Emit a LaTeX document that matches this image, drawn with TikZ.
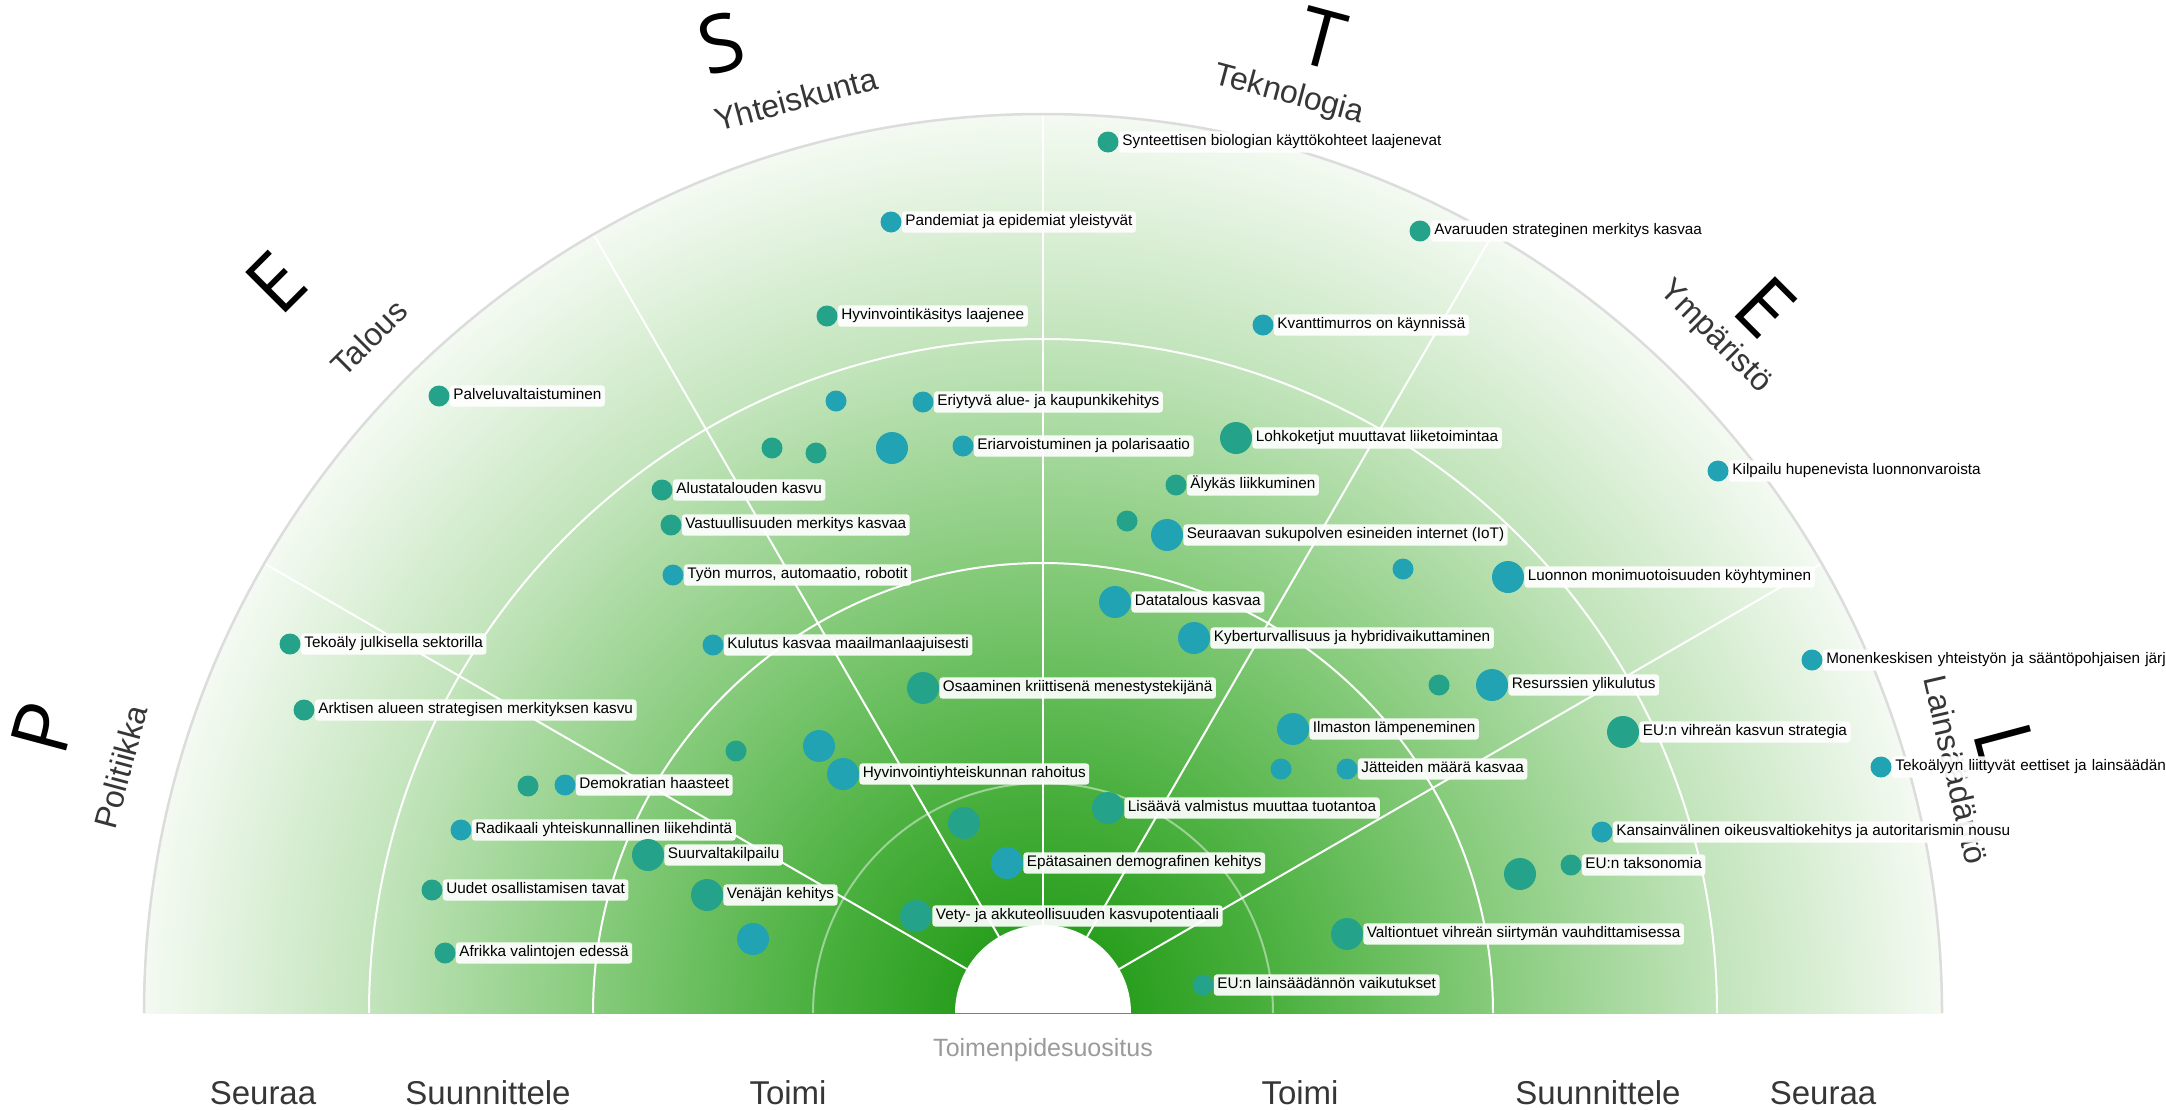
\documentclass[tikz,border=0pt]{standalone}
\usepackage{fontspec}
\setmainfont{Liberation Sans}
\newfontfamily\bigletterfont{Open Sans}
\usetikzlibrary{positioning}

\def\rimradius{899}
\def\holeradius{88}

\definecolor{dotgreen}{HTML}{25A38A}
\definecolor{dotcyan}{HTML}{22A3B4}
\definecolor{glowA}{HTML}{2A9F1F}
\definecolor{glowB}{HTML}{4AB03E}
\definecolor{glowC}{HTML}{86CB7B}
\definecolor{glowD}{HTML}{C2E4BB}
\definecolor{glowE}{HTML}{F4FAF2}
\definecolor{rimgray}{HTML}{DCDCDC}
\definecolor{namegray}{HTML}{363636}
\definecolor{axisgray}{HTML}{9A9A9A}

\pgfdeclareradialshading{pestelglow}{\pgfpoint{0bp}{0bp}}{color(0bp)=(glowA); color(2.5bp)=(glowA); color(6.4bp)=(glowB); color(12.5bp)=(glowC); color(18.7bp)=(glowD); color(25bp)=(glowE); color(50bp)=(glowE)}

\tikzset{
  ringline/.style={white,line width=2pt},
  innerring/.style={white,opacity=0.45,line width=2pt},
  rimline/.style={rimgray,line width=2.5pt},
  trenddot/.style={circle,inner sep=0pt,draw=none},
  trendlabel/.style={fill=white,fill opacity=0.92,text opacity=1,rounded corners=3pt,
    inner xsep=3.5pt,inner ysep=3.5pt,text height=11pt,text depth=3.2pt,
    font=\fontsize{15.3}{18}\selectfont},
  sectorletter/.style={font=\bigletterfont\fontsize{80}{90}\selectfont},
  sectorname/.style={text=namegray,font=\fontsize{32}{38}\selectfont},
  horizonlabel/.style={text=namegray,font=\fontsize{33}{40}\selectfont},
  axistitle/.style={text=axisgray,font=\fontsize{25}{30}\selectfont}
}

\begin{document}
\begin{tikzpicture}[x=1pt,y=-1pt]
\useasboundingbox (0,0) rectangle (2166,1109);
\clip (0,0) rectangle (2166,1109);

% radar half disc
\begin{scope}[shift={(1043,1013)},yscale=-1]
  \begin{scope}
    \clip (-\rimradius,0) rectangle (\rimradius,\rimradius);
    \shade[shading=pestelglow] (0,0) circle (\rimradius);
  \end{scope}
  \fill[white] (-\holeradius,0) arc[start angle=180,end angle=0,radius=\holeradius] -- cycle;
  \draw[innerring] (-230,0) arc[start angle=180,end angle=0,radius=230];
  \foreach \r in {450,674}
    \draw[ringline] (-\r,0) arc[start angle=180,end angle=0,radius=\r];
  \foreach \a in {30,60,...,150}
    \draw[ringline] (\a:\holeradius) -- (\a:\rimradius);
  \draw[rimline] (-\rimradius,0) arc[start angle=180,end angle=0,radius=\rimradius];
\end{scope}

% sector letters and names
\foreach \lx/\ly/\rot/\letter [count=\k] in {721/43/15/S,1322/39/-15/T,276/283/45/E,
    1765/307/-45/E,43/728/75/P,2005/745/-75/L}
  \node[sectorletter,rotate=\rot] (letter\k) at (\lx,\ly) {\letter};
\foreach \nx/\ny/\rot/\name [count=\k] in {796/99/15/Yhteiskunta,1289/95/-15/Teknologia,
    369/338/45/Talous,1715/337/-45/Ympäristö,121/767/75/Politiikka,1956/770/-77/Lainsäädäntö}
  \node[sectorname,rotate=\rot] (sector\k) at (\nx,\ny) {\name};

% time horizon
\foreach \bx/\btext [count=\k] in {263/Seuraa,488/Suunnittele,788/Toimi,
    1300/Toimi,1598/Suunnittele,1823/Seuraa}
  \node[horizonlabel] (horizon\k) at (\bx,1093) {\btext};
\node[axistitle] (axis) at (1043,1050) {Toimenpidesuositus};

% trends without label
\foreach \px/\py/\dsize/\dcol [count=\k] in {836/401/21/dotcyan,772/448/21/dotgreen,
    816/453/21/dotgreen,892/448/32/dotcyan,1127/521/21/dotgreen,1403/569/21/dotcyan,
    1439/685/21/dotgreen,736/751/21/dotgreen,819/746/32/dotcyan,1281/769/21/dotcyan,
    528/786/21/dotgreen,964/823/32/dotgreen,1520/874/32/dotgreen,753/939/32/dotcyan}
  \node[trenddot,minimum size=\dsize pt,fill=\dcol] (spot\k) at (\px,\py) {};

% trends with label
\foreach \px/\py/\dsize/\dcol/\dtext [count=\k] in {
    1108/142/21/dotgreen/{Synteettisen biologian käyttökohteet laajenevat},
    891/222/21/dotcyan/{Pandemiat ja epidemiat yleistyvät},
    1420/231/21/dotgreen/{Avaruuden strateginen merkitys kasvaa},
    827/316/21/dotgreen/{Hyvinvointikäsitys laajenee},
    1263/325/21/dotcyan/{Kvanttimurros on käynnissä},
    439/396/21/dotgreen/{Palveluvaltaistuminen},
    923/402/21/dotcyan/{Eriytyvä alue- ja kaupunkikehitys},
    963/446/21/dotcyan/{Eriarvoistuminen ja polarisaatio},
    1236/438/32/dotgreen/{Lohkoketjut muuttavat liiketoimintaa},
    1718/471/21/dotcyan/{Kilpailu hupenevista luonnonvaroista},
    1176/485/21/dotgreen/{Älykäs liikkuminen},
    662/490/21/dotgreen/{Alustatalouden kasvu},
    1167/535/32/dotcyan/{Seuraavan sukupolven esineiden internet (IoT)},
    671/525/21/dotgreen/{Vastuullisuuden merkitys kasvaa},
    673/575/21/dotcyan/{Työn murros, automaatio, robotit},
    1508/577/32/dotcyan/{Luonnon monimuotoisuuden köyhtyminen},
    1115/602/32/dotcyan/{Datatalous kasvaa},
    1194/638/32/dotcyan/{Kyberturvallisuus ja hybridivaikuttaminen},
    290/644/21/dotgreen/{Tekoäly julkisella sektorilla},
    713/645/21/dotcyan/{Kulutus kasvaa maailmanlaajuisesti},
    923/688/32/dotgreen/{Osaaminen kriittisenä menestystekijänä},
    1492/685/32/dotcyan/{Resurssien ylikulutus},
    304/710/21/dotgreen/{Arktisen alueen strategisen merkityksen kasvu},
    1293/729/32/dotcyan/{Ilmaston lämpeneminen},
    1623/732/32/dotgreen/{EU:n vihreän kasvun strategia},
    843/774/32/dotcyan/{Hyvinvointiyhteiskunnan rahoitus},
    1347/769/21/dotcyan/{Jätteiden määrä kasvaa},
    565/785/21/dotcyan/{Demokratian haasteet},
    1108/808/32/dotgreen/{Lisäävä valmistus muuttaa tuotantoa},
    461/830/21/dotcyan/{Radikaali yhteiskunnallinen liikehdintä},
    1602/832/21/dotcyan/{Kansainvälinen oikeusvaltiokehitys ja autoritarismin nousu},
    648/855/32/dotgreen/{Suurvaltakilpailu},
    1007/863/32/dotcyan/{Epätasainen demografinen kehitys},
    1571/865/21/dotgreen/{EU:n taksonomia},
    432/890/21/dotgreen/{Uudet osallistamisen tavat},
    707/895/32/dotgreen/{Venäjän kehitys},
    916/916/32/dotgreen/{Vety- ja akkuteollisuuden kasvupotentiaali},
    1347/934/32/dotgreen/{Valtiontuet vihreän siirtymän vauhdittamisessa},
    445/953/21/dotgreen/{Afrikka valintojen edessä},
    1203/985/21/dotgreen/{EU:n lainsäädännön vaikutukset}}
{
  \node[trenddot,minimum size=\dsize pt,fill=\dcol] (trend\k) at (\px,\py) {};
  \node[trendlabel,right=0pt of trend\k] (trendtext\k) {\dtext};
}

% labels running off the right edge
\node[trenddot,minimum size=21pt,fill=dotcyan] (edgetrend1) at (1812,660) {};
\node[trendlabel,right=0pt of edgetrend1,text width=400pt] (edgetext1)
  {Monenkeskisen yhteistyön ja sääntöpohjaisen järje};
\node[trenddot,minimum size=21pt,fill=dotcyan] (edgetrend2) at (1881,767) {};
\node[trendlabel,right=0pt of edgetrend2,text width=400pt] (edgetext2)
  {Tekoälyyn liittyvät eettiset ja lainsäädänn};
\end{tikzpicture}
\end{document}
